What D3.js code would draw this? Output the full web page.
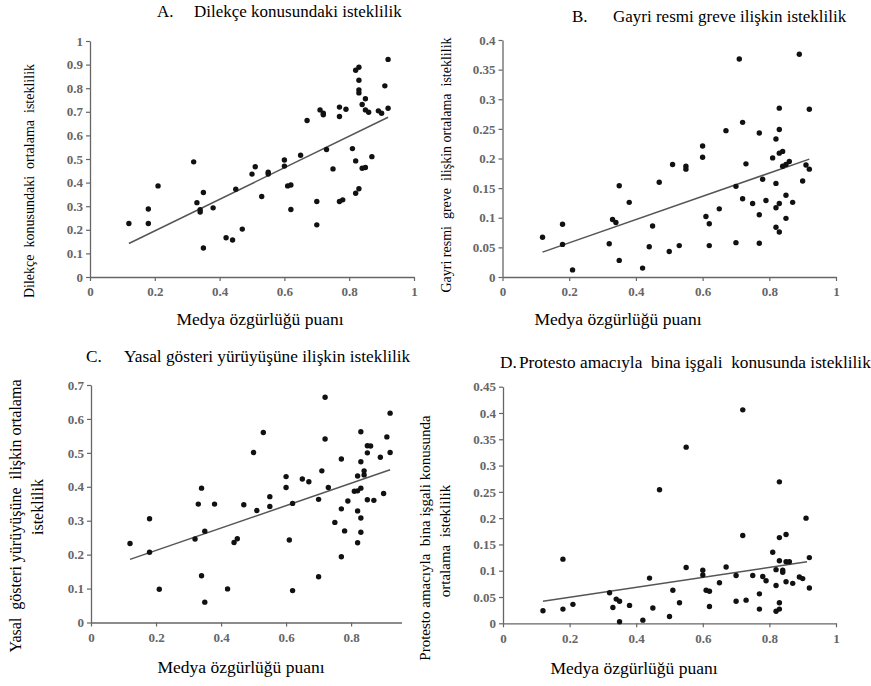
<!DOCTYPE html>
<html>
<head>
<meta charset="utf-8">
<style>
  body { margin: 0; background: #fff; }
  svg { display: block; }
  svg text { font-family: "Liberation Serif", Tinos, "Times New Roman", "DejaVu Serif", serif; }
</style>
</head>
<body>
<svg id="chart" width="871" height="686"></svg>
<script src="https://cdn.jsdelivr.net/npm/d3@7"></script>
<script>
// media freedom score (x) and mean willingness (y), one pair of arrays per panel
const aX = [0.12,0.18,0.18,0.21,0.32,0.33,0.34,0.34,0.35,0.35,0.38,0.42,0.44,0.45,0.47,0.50,0.51,0.53,0.55,0.55,
  0.60,0.60,0.61,0.62,0.62,0.65,0.67,0.70,0.70,0.71,0.72,0.72,0.73,0.75,0.77,0.77,0.77,0.78,0.79,0.81,
  0.82,0.83,0.83,0.83,0.83,0.82,0.82,0.83,0.84,0.85,0.85,0.86,0.84,0.85,0.87,0.89,0.90,0.91,0.92,0.92];
const aY = [0.227,0.288,0.227,0.386,0.488,0.315,0.285,0.275,0.358,0.123,0.293,0.166,0.157,0.372,0.203,0.436,0.467,0.341,0.444,0.436,
  0.496,0.47,0.386,0.39,0.286,0.516,0.663,0.32,0.221,0.708,0.694,0.687,0.54,0.458,0.72,0.68,0.32,0.327,0.711,0.544,
  0.876,0.889,0.834,0.793,0.78,0.492,0.355,0.374,0.731,0.755,0.708,0.698,0.461,0.464,0.51,0.704,0.694,0.81,0.922,0.715];

const bX = [0.12,0.18,0.18,0.21,0.32,0.33,0.34,0.35,0.35,0.38,0.42,0.44,0.45,0.47,0.50,0.51,0.53,0.55,0.55,0.60,
  0.60,0.61,0.62,0.62,0.65,0.67,0.70,0.70,0.71,0.72,0.72,0.73,0.75,0.77,0.77,0.77,0.78,0.79,0.81,0.82,
  0.82,0.82,0.82,0.83,0.83,0.83,0.84,0.83,0.83,0.84,0.85,0.85,0.85,0.86,0.87,0.89,0.90,0.91,0.92,0.92];
const bY = [0.067,0.089,0.055,0.012,0.056,0.097,0.092,0.154,0.028,0.126,0.015,0.051,0.086,0.16,0.043,0.19,0.053,0.187,0.182,0.221,
  0.202,0.102,0.09,0.053,0.115,0.247,0.153,0.058,0.368,0.261,0.132,0.191,0.124,0.243,0.105,0.057,0.165,0.129,0.201,0.233,
  0.158,0.117,0.084,0.285,0.249,0.209,0.212,0.124,0.076,0.187,0.19,0.138,0.099,0.195,0.126,0.376,0.162,0.189,0.283,0.182];

const cX = [0.12,0.18,0.18,0.21,0.32,0.33,0.34,0.34,0.35,0.35,0.38,0.42,0.44,0.45,0.47,0.50,0.51,0.53,0.55,0.55,
  0.60,0.60,0.61,0.62,0.62,0.65,0.67,0.70,0.70,0.71,0.72,0.72,0.73,0.75,0.77,0.77,0.77,0.78,0.79,0.81,
  0.82,0.82,0.82,0.82,0.83,0.83,0.83,0.83,0.83,0.84,0.84,0.85,0.85,0.86,0.85,0.87,0.89,0.90,0.91,0.92,0.92];
const cY = [0.233,0.306,0.207,0.098,0.246,0.349,0.396,0.138,0.269,0.06,0.349,0.099,0.236,0.247,0.347,0.501,0.33,0.56,0.371,0.342,
  0.43,0.398,0.243,0.351,0.094,0.423,0.415,0.363,0.135,0.447,0.664,0.541,0.398,0.295,0.482,0.335,0.194,0.27,0.358,0.387,
  0.432,0.388,0.329,0.235,0.562,0.474,0.396,0.308,0.266,0.447,0.435,0.5,0.521,0.52,0.362,0.36,0.487,0.38,0.547,0.501,0.617];

const dX = [0.12,0.18,0.18,0.21,0.32,0.33,0.34,0.35,0.35,0.38,0.42,0.44,0.45,0.47,0.50,0.51,0.53,0.55,0.55,0.60,
  0.60,0.61,0.62,0.62,0.65,0.67,0.70,0.70,0.72,0.72,0.73,0.75,0.77,0.77,0.78,0.79,0.81,0.82,0.82,0.82,
  0.83,0.83,0.83,0.83,0.83,0.84,0.84,0.85,0.85,0.85,0.86,0.87,0.89,0.90,0.91,0.92,0.92];
const dY = [0.024,0.122,0.027,0.036,0.058,0.03,0.046,0.042,0.003,0.034,0.006,0.086,0.029,0.254,0.013,0.063,0.039,0.335,0.106,0.101,
  0.092,0.063,0.061,0.032,0.077,0.107,0.091,0.042,0.406,0.167,0.044,0.091,0.056,0.027,0.089,0.081,0.135,0.102,0.072,0.023,
  0.269,0.163,0.119,0.039,0.027,0.101,0.097,0.169,0.117,0.079,0.117,0.076,0.088,0.085,0.2,0.125,0.067];

// fitted line end points
const aFitX = [0.12, 0.92], aFitY = [0.142, 0.677];
const bFitX = [0.12, 0.92], bFitY = [0.042, 0.199];
const cFitX = [0.12, 0.92], cFitY = [0.186, 0.45];
const dFitX = [0.12, 0.913], dFitY = [0.042, 0.117];

const xTicks = [0, 0.2, 0.4, 0.6, 0.8, 1];
const xTicksC = [0, 0.2, 0.4, 0.6, 0.8];
const aYTicks = [0, 0.1, 0.2, 0.3, 0.4, 0.5, 0.6, 0.7, 0.8, 0.9, 1];
const bYTicks = [0, 0.05, 0.1, 0.15, 0.2, 0.25, 0.3, 0.35, 0.4];
const cYTicks = [0, 0.1, 0.2, 0.3, 0.4, 0.5, 0.6, 0.7];
const dYTicks = [0, 0.05, 0.1, 0.15, 0.2, 0.25, 0.3, 0.35, 0.4, 0.45];

const xLabel = "Medya özgürlüğü puanı";

const svg = d3.select("#chart");
const fmt = d => String(+d.toFixed(2));
const serif = '"Liberation Serif", Tinos, "Times New Roman", "DejaVu Serif", serif';

function drawPanel(p) {
  const x = d3.scaleLinear().domain(p.xDomain).range(p.xRange);
  const y = d3.scaleLinear().domain(p.yDomain).range(p.yRange);
  const g = svg.append("g").attr("font-family", serif);

  const xa = g.append("g")
    .attr("transform", `translate(0,${p.yRange[0]})`)
    .call(d3.axisBottom(x).tickValues(p.xTicks).tickFormat(fmt).tickSize(4).tickSizeOuter(0).tickPadding(6));
  const ya = g.append("g")
    .attr("transform", `translate(${p.xRange[0]},0)`)
    .call(d3.axisLeft(y).tickValues(p.yTicks).tickFormat(fmt).tickSize(4).tickSizeOuter(0).tickPadding(3));

  [xa, ya].forEach(a => {
    a.attr("font-family", serif);
    a.select(".domain").attr("stroke", "#666").attr("stroke-width", 1.3);
    a.selectAll(".tick line").attr("stroke", "#666").attr("stroke-width", 1.2);
    a.selectAll(".tick text")
      .attr("fill", "#666")
      .style("font-size", "13px")
      .style("font-weight", "bold");
  });

  g.append("line")
    .attr("x1", x(p.fitX[0])).attr("y1", y(p.fitY[0]))
    .attr("x2", x(p.fitX[1])).attr("y2", y(p.fitY[1]))
    .attr("stroke", "#555")
    .attr("stroke-width", 1.5);

  g.selectAll("circle")
    .data(p.xs)
    .enter()
    .append("circle")
    .attr("cx", d => x(d))
    .attr("cy", (d, i) => y(p.ys[i]))
    .attr("r", 2.7)
    .attr("fill", "#111");

  // title: letter + text
  g.append("text")
    .attr("x", p.titleX[0]).attr("y", p.titleY)
    .style("font-size", p.titleSize + "px")
    .text(p.letter);
  g.append("text")
    .attr("x", p.titleX[1]).attr("y", p.titleY)
    .style("font-size", p.titleSize + "px")
    .style("white-space", "pre")
    .text(p.title);

  g.append("text")
    .attr("x", p.xLabelPos[0]).attr("y", p.xLabelPos[1])
    .attr("text-anchor", "middle")
    .style("font-size", "17.5px")
    .text(xLabel);

  p.yLabel.forEach((line, i) => {
    g.append("text")
      .attr("transform", `translate(${p.yLabelPos[i][0]},${p.yLabelPos[i][1]}) rotate(-90)`)
      .attr("text-anchor", "middle")
      .style("font-size", p.yLabelSize + "px")
      .style("white-space", "pre")
      .text(line);
  });
}

drawPanel({
  xs: aX, ys: aY, fitX: aFitX, fitY: aFitY,
  xDomain: [0, 1], xRange: [90, 414], yDomain: [0, 1], yRange: [277, 41],
  xTicks: xTicks, yTicks: aYTicks,
  letter: "A.", title: "Dilekçe konusundaki isteklilik", titleX: [157, 194], titleY: 17, titleSize: 17,
  xLabelPos: [260, 325],
  yLabel: ["Dilekçe  konusundaki  ortalama  isteklilik"], yLabelPos: [[34, 181]], yLabelSize: 14
});

drawPanel({
  xs: bX, ys: bY, fitX: bFitX, fitY: bFitY,
  xDomain: [0, 1], xRange: [502.5, 836], yDomain: [0, 0.4], yRange: [277, 40],
  xTicks: xTicks, yTicks: bYTicks,
  letter: "B.", title: "Gayri resmi greve ilişkin isteklilik", titleX: [572, 613], titleY: 22, titleSize: 17,
  xLabelPos: [618, 325],
  yLabel: ["Gayri resmi  greve  ilişkin ortalama  isteklilik"], yLabelPos: [[450.5, 165]], yLabelSize: 14
});

drawPanel({
  xs: cX, ys: cY, fitX: cFitX, fitY: cFitY,
  xDomain: [0, 0.955], xRange: [91, 401.5], yDomain: [0, 0.7], yRange: [622.5, 385],
  xTicks: xTicksC, yTicks: cYTicks,
  letter: "C.", title: "Yasal gösteri yürüyüşüne ilişkin isteklilik", titleX: [86, 124], titleY: 362, titleSize: 17.3,
  xLabelPos: [241, 673],
  yLabel: ["Yasal  gösteri yürüyüşüne  ilişkin ortalama", "isteklilik"],
  yLabelPos: [[20.5, 516], [42.5, 507]], yLabelSize: 16
});

drawPanel({
  xs: dX, ys: dY, fitX: dFitX, fitY: dFitY,
  xDomain: [0, 1], xRange: [503, 836], yDomain: [0, 0.45], yRange: [623.3, 386.7],
  xTicks: xTicks, yTicks: dYTicks,
  letter: "D.", title: "Protesto amacıyla  bina işgali  konusunda isteklilik", titleX: [500, 519], titleY: 368, titleSize: 17.3,
  xLabelPos: [634, 674],
  yLabel: ["Protesto amacıyla  bina işgali konusunda", "ortalama  isteklilik"],
  yLabelPos: [[430, 538], [450, 541]], yLabelSize: 15
});
</script>
</body>
</html>
